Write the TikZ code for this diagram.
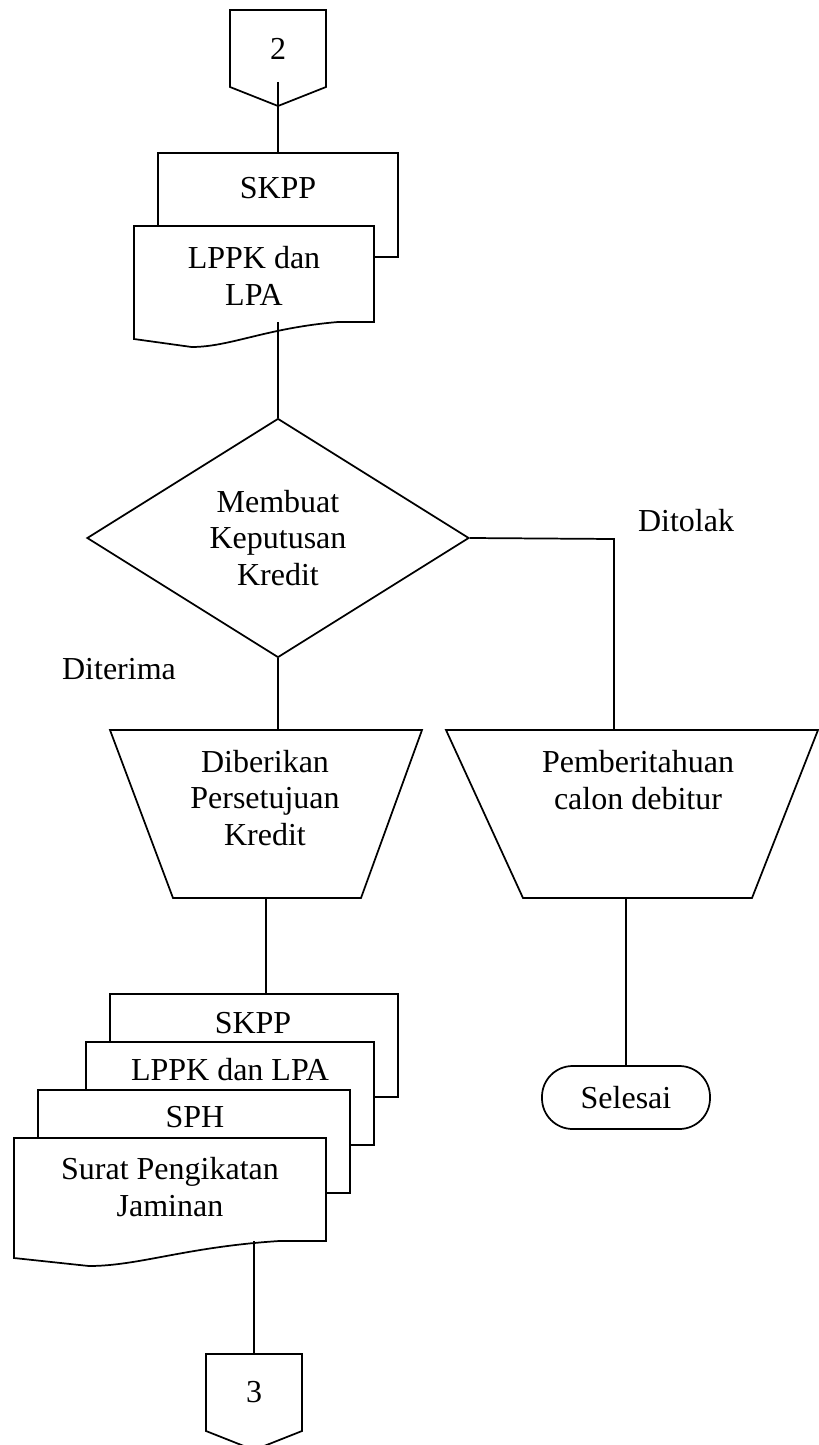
\documentclass[tikz,border=0pt]{standalone}
\usepackage{fontspec}
\setmainfont{Liberation Serif}
\usetikzlibrary{calc,shapes.geometric}

% document symbol with wavy bottom, drawn round a frame node
\newcommand{\docoutline}[1]{%
  \draw[docline] (#1.north west) -- (#1.north east) -- (#1.south east)
    -- ($(#1.south east)!0.15!(#1.south west)$)
    .. controls ($(#1.south east)!0.45!(#1.south west)+(0,6)$) and ($(#1.south east)!0.6!(#1.south west)+(0,25)$)
    .. ($(#1.south east)!0.76!(#1.south west)+(0,25)$)
    -- ($(#1.south west)+(0,17)$) -- cycle;}
% off-page connector
\newcommand{\offpage}[1]{%
  \draw[flow] (#1.north west) -- (#1.north east) -- (#1.south east)
    -- ($(#1.south)+(0,19)$) -- (#1.south west) -- cycle;}

\begin{document}
\begin{tikzpicture}[x=0.75pt,y=0.75pt,yscale=-1,xscale=1,
  flow/.style={line width=1.3pt, line join=miter},
  docline/.style={flow, draw, fill=white},
  frame/.style={rectangle, inner sep=0pt, outer sep=0pt},
  lbl/.style={font=\fontsize{24}{27.5}\selectfont, align=center, inner sep=0pt}]
\useasboundingbox (0,0) rectangle (818,1445);

% Connector 2
\node[frame, lbl, minimum width=72pt, minimum height=57.75pt] (con2) at (278,48.5) {2};
\offpage{con2}

% Documents SKPP, LPPK dan LPA
\node[frame, minimum width=180pt, minimum height=78pt] (skppA) at (278,205) {};
\docoutline{skppA}
\node[lbl] (skppAtxt) at (278,188) {SKPP};
\node[frame, minimum width=180pt, minimum height=72pt] (lppkA) at (254,274) {};
\docoutline{lppkA}
\node[lbl] (lppkAtxt) at (254,276) {LPPK dan\\LPA};

% Decision
\node[diamond, draw, flow, shape aspect=1.6, minimum width=286.5pt, minimum height=179.25pt, lbl] (decide) at (278,538) {Membuat\\Keputusan\\Kredit};
\node[lbl] (ditolak) at (686,521) {Ditolak};
\node[lbl] (diterima) at (119,669) {Diterima};

% Manual operations
\node[frame, minimum width=234pt, minimum height=126pt] (approve) at (266,814) {};
\draw[flow] (approve.north west) -- (approve.north east) -- ($(approve.south east)+(-61,0)$) -- ($(approve.south west)+(63,0)$) -- cycle;
\node[lbl] (approvetxt) at (265,798) {Diberikan\\Persetujuan\\Kredit};
\node[frame, minimum width=279pt, minimum height=126pt] (notify) at (632,814) {};
\draw[flow] (notify.north west) -- (notify.north east) -- ($(notify.south east)+(-66,0)$) -- ($(notify.south west)+(77,0)$) -- cycle;
\node[lbl] (notifytxt) at (638,780) {Pemberitahuan\\calon debitur};

% Terminator
\node[draw, flow, rectangle, rounded corners=23pt, minimum width=126pt, minimum height=47.25pt, lbl] (selesai) at (626,1097.5) {Selesai};

% Document stack
\node[frame, minimum width=216pt, minimum height=77.25pt] (skppB) at (254,1045.5) {};
\docoutline{skppB}
\node[lbl] (skppBtxt) at (253,1023) {SKPP};
\node[frame, minimum width=216pt, minimum height=77.25pt] (lppkB) at (230,1093.5) {};
\docoutline{lppkB}
\node[lbl] (lppkBtxt) at (230,1070) {LPPK dan LPA};
\node[frame, minimum width=234pt, minimum height=77.25pt] (sph) at (194,1141.5) {};
\docoutline{sph}
\node[lbl] (sphtxt) at (195,1117) {SPH};
\node[frame, minimum width=234pt, minimum height=77.25pt] (jaminan) at (170,1189.5) {};
\docoutline{jaminan}
\node[lbl] (jaminantxt) at (170,1187) {Surat Pengikatan\\Jaminan};

% Connector 3
\node[frame, lbl, minimum width=72pt, minimum height=57.75pt] (con3) at (254,1392.5) {3};
\offpage{con3}

% Lines
\draw[flow] ($(con2.south)+(0,-5)$) -- (skppA.north);
\draw[flow] (lppkA.south -| decide.north) -- (decide.north);
\coordinate (reject) at (614,539);
\draw[flow] (decide.east) -- (reject) -- (reject |- notify.north);
\draw[flow] (decide.south) -- (decide.south |- approve.north);
\draw[flow] (approve.south) -- (approve.south |- skppB.north);
\draw[flow] (selesai.north |- notify.south) -- (selesai.north);
\draw[flow] (jaminan.south -| con3.north) -- (con3.north);

\end{tikzpicture}
\end{document}
